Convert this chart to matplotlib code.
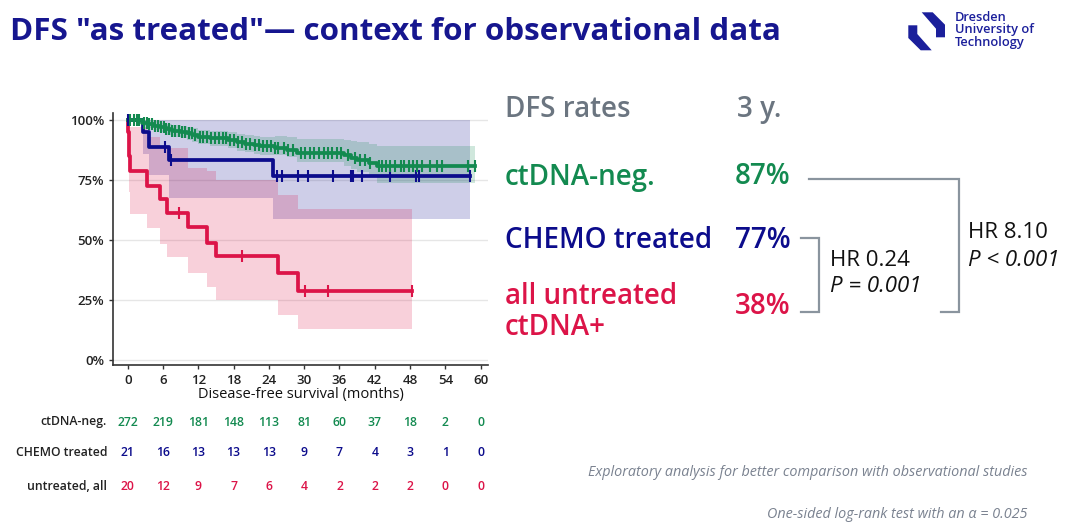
import numpy as np
import matplotlib
matplotlib.use("Agg")
import matplotlib.pyplot as plt
from matplotlib.patches import Polygon
from matplotlib.transforms import blended_transform_factory

plt.rcParams['font.family'] = ['Open Sans', 'DejaVu Sans']

# Kaplan-Meier curves (months, survival)
neg_t = [0, 2.5, 3.5, 4.5, 5.5, 6.5, 7.5, 9, 10, 11, 12, 14, 17, 18.5, 20, 21.5, 22.5, 25, 27, 28.7, 36.8, 38, 39, 41, 42.3]
neg_s = [1.0, .99, .985, .977, .97, .963, .956, .951, .945, .937, .93, .925, .917, .908, .902, .897, .893, .884, .876, .862, .853, .843, .835, .822, .811]
neg_lo = [1.0, .975, .968, .958, .95, .94, .932, .926, .918, .908, .9, .894, .884, .873, .866, .86, .855, .853, .845, .825, .81, .797, .785, .765, .739]
neg_hi = [1.0, 1.0, 1.0, .995, .99, .985, .98, .976, .972, .966, .96, .956, .95, .943, .938, .934, .93, .933, .93, .92, .918, .915, .91, .9, .894]
neg_end = 59.0
neg_cens = [0.4, 1, 1.5, 2, 2.8, 3.2, 3.7, 4.2, 4.7, 5.1, 5.6, 6.1, 6.5, 7.1, 7.6, 8.1, 8.7, 9.3, 9.8, 10.4, 10.9, 11.5, 12.3,
            12.8, 13.4, 14.1, 14.8, 15.5, 16.2, 16.7, 17.4, 18.1, 18.8, 19.4, 20.1, 20.8, 21.6, 22.3, 23.0, 23.6, 24.3,
            25.1, 25.6, 26.5, 27.3, 28.1, 29.5, 30.2, 31.0, 31.6, 32.5, 33.3, 34.0, 34.8, 35.5, 36.2, 37.4, 38.6,
            39.5, 40.4, 41.2, 42.8, 43.3, 43.9, 44.6, 45.5, 46.4, 47.0, 47.8, 48.5, 49.2, 50.0, 51.4, 52.6, 53.4, 57.8]

chemo_t = [0, 2.6, 3.7, 7.1, 24.7]
chemo_s = [1.0, 0.952, 0.889, 0.833, 0.767]
chemo_lo = [1.0, 0.86, 0.77, 0.674, 0.59]
chemo_hi = [1.0, 1.0, 1.0, 1.0, 1.0]
chemo_end = 58.2
chemo_cens = [0.1, 6.3, 7.4, 25.3, 26.3, 29.0, 30.7, 34.9, 37.9, 38.3, 39.9, 44.6, 49.0, 49.6]

untr_t = [0, 0.05, 0.15, 0.25, 0.4, 3.3, 5.5, 6.7, 10.2, 13.4, 15.0, 25.6, 29.0]
untr_s = [1.0, 0.95, 0.90, 0.85, 0.789, 0.725, 0.672, 0.614, 0.556, 0.489, 0.433, 0.364, 0.2875]
untr_lo = [1.0, 0.85, 0.78, 0.70, 0.611, 0.549, 0.486, 0.43, 0.364, 0.306, 0.25, 0.1875, 0.132]
untr_hi = [1.0, 1.0, 1.0, 0.99, 0.97, 0.93, 0.885, 0.885, 0.80, 0.79, 0.75, 0.6875, 0.632]
untr_end = 48.4
untr_cens = [8.8, 19.5, 30.1, 34.1]

# numbers at risk
risk_times = [0, 6, 12, 18, 24, 30, 36, 42, 48, 54, 60]
risk_neg = [272, 219, 181, 148, 113, 81, 60, 37, 18, 2, 0]
risk_chemo = [21, 16, 13, 13, 13, 9, 7, 4, 3, 1, 0]
risk_untr = [20, 12, 9, 7, 6, 4, 2, 2, 2, 0, 0]
risk_labels = ['ctDNA-neg.', 'CHEMO treated', 'untreated, all']

# right hand summary
rate_labels = ['ctDNA-neg.', 'CHEMO treated', 'all untreated\nctDNA+']
rate_values = ['87%', '77%', '38%']

GREEN = '#138a50'
BLUE = '#0c0c8c'
RED = '#dc1448'
GREY = '#8a949e'
TITLE = '#16168f'

W, H = 1065, 530
fig = plt.figure(figsize=(W / 100, H / 100), dpi=100)


def px(x, y):
    return x / W, 1 - y / H


def ftext(x, y, s, **kw):
    kw.setdefault('va', 'center')
    kw.setdefault('ha', 'left')
    fig.text(*px(x, y), s, **kw)


ax = fig.add_axes([113 / W, 1 - 365 / H, 375 / W, 252 / H])
ax.set_xlim(-2.5, 61.25)
ax.set_ylim(-0.02, 1.03)


def km(t, s, lo, hi, end, cens, color):
    tt = np.append(t, end)
    ss = np.append(s, s[-1])
    ax.fill_between(tt, np.append(lo, lo[-1]), np.append(hi, hi[-1]),
                    step='post', color=color, alpha=0.2, lw=0)
    ax.step(tt, ss, where='post', color=color, lw=2.7, zorder=3)
    c = np.append(cens, end)
    idx = np.searchsorted(t, c, side='right') - 1
    ax.plot(c, np.array(s)[idx], ls='none', marker='|', ms=9, mew=1.5,
            color=color, zorder=4)


km(chemo_t, chemo_s, chemo_lo, chemo_hi, chemo_end, chemo_cens, BLUE)
km(untr_t, untr_s, untr_lo, untr_hi, untr_end, untr_cens, RED)
km(neg_t, neg_s, neg_lo, neg_hi, neg_end, neg_cens, GREEN)

ax.set_yticks([0, 0.25, 0.5, 0.75, 1.0])
ax.set_yticklabels(['0%', '25%', '50%', '75%', '100%'])
ax.set_xticks(risk_times)
ax.grid(axis='y', color='#e6e6e6', lw=1)
ax.set_axisbelow(True)
for sp in ['top', 'right']:
    ax.spines[sp].set_visible(False)
for sp in ['left', 'bottom']:
    ax.spines[sp].set_color('#333333')
    ax.spines[sp].set_linewidth(1.2)
ax.tick_params(colors='#333333', labelcolor='#222222', labelsize=9.5, length=3, width=1)
for lab in ax.get_xticklabels() + ax.get_yticklabels():
    lab.set_fontweight('semibold')
ax.set_xlabel('Disease-free survival (months)', fontsize=10.5, fontweight='medium',
              color='#111111', labelpad=0)

# risk table
tr = blended_transform_factory(ax.transData, fig.transFigure)
for row, (vals, col, lab) in enumerate(zip([risk_neg, risk_chemo, risk_untr],
                                           [GREEN, BLUE, RED], risk_labels)):
    y = [422, 453, 486][row]
    ftext(107, y, lab, ha='right', fontsize=8.8, fontweight='semibold', color='#222222')
    for t, v in zip(risk_times, vals):
        ax.text(t, 1 - y / H, str(v), transform=tr, ha='center', va='center',
                fontsize=8.8, fontweight='semibold', color=col)

# title and logo
ftext(10, 32, 'DFS "as treated"\u2014 context for observational data', fontsize=22.6,
      fontweight='bold', color=TITLE)
logo_col = '#1b1f9b'
upper = [(921.7, 12.3), (932.7, 12.3), (945, 24.7), (945, 37.3), (936, 37.3), (936, 28.7)]
lower = [(931.7, 50.3), (920.7, 50.3), (908.3, 38), (908.3, 25.3), (917.3, 25.3), (917.3, 34)]
for shape in (upper, lower):
    fig.patches.append(Polygon([px(x, y) for x, y in shape], closed=True,
                               transform=fig.transFigure, color=logo_col, lw=0))
for y, s in zip([17.5, 30, 42.5], ['Dresden', 'University of', 'Technology']):
    ftext(955, y, s, fontsize=9.3, fontweight='semibold', color=logo_col)

# summary on the right
ftext(505, 109, 'DFS rates', fontsize=20, fontweight='semibold', color='#6b7580')
ftext(737, 109, '3 y.', fontsize=20, fontweight='semibold', color='#6b7580')
for lab, val, col, y, vy in zip(rate_labels, rate_values, [GREEN, BLUE, RED],
                                [177, 241, 312], [177, 241, 307]):
    ftext(505, y, lab, fontsize=20, fontweight='semibold', color=col, linespacing=1.12)
    ftext(735, vy, val, fontsize=20, fontweight='semibold', color=col)

bk = dict(color=GREY, lw=1.6, transform=fig.transFigure, solid_joinstyle='miter')
for seg in [[(809, 179), (959, 179), (959, 312), (941, 312)],
            [(801, 238), (819, 238), (819, 312), (801, 312)]]:
    xs, ys = zip(*[px(x, y) for x, y in seg])
    fig.add_artist(plt.Line2D(xs, ys, **bk))

ftext(830, 260, 'HR 0.24', fontsize=16, fontweight='medium', color='#111111')
ftext(830, 287, 'P = 0.001', fontsize=16, fontweight='medium', style='italic', color='#111111')
ftext(968, 233, 'HR 8.10', fontsize=16, fontweight='medium', color='#111111')
ftext(968, 260, 'P < 0.001', fontsize=16, fontweight='medium', style='italic', color='#111111')

ftext(1027, 473, 'Exploratory analysis for better comparison with observational studies',
      ha='right', fontsize=10.4, style='italic', color='#7a8290')
ftext(1027, 515, 'One-sided log-rank test with an \u03b1 = 0.025',
      ha='right', fontsize=10.4, style='italic', color='#7a8290')

fig.savefig('out.png', dpi=100)
